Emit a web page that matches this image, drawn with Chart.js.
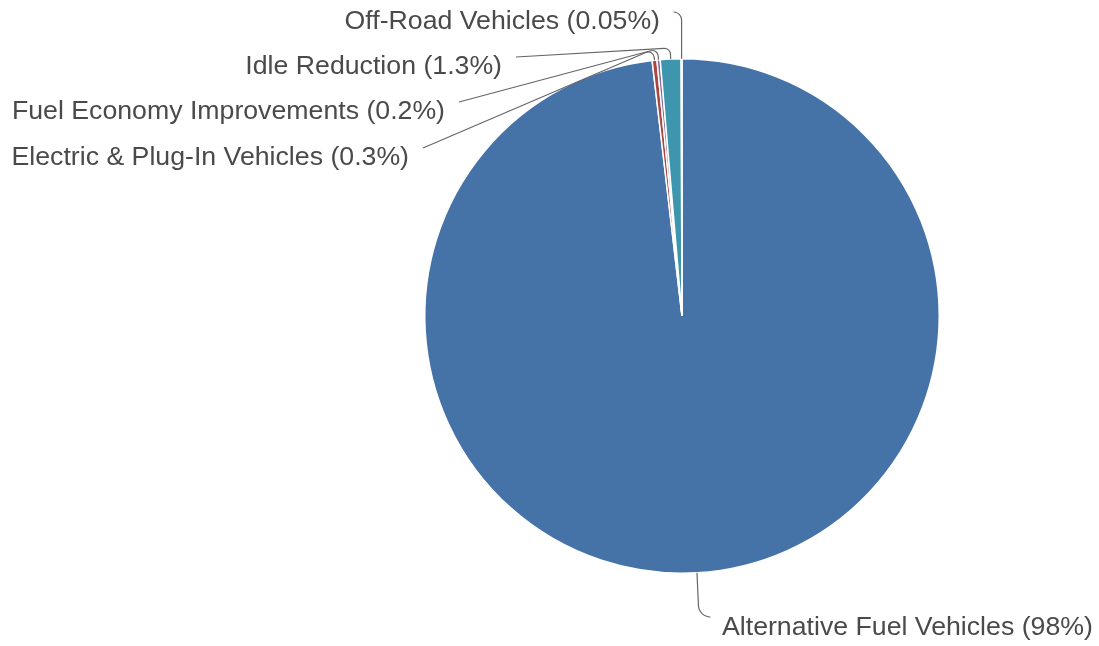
<!DOCTYPE html>
<html>
<head>
<meta charset="utf-8">
<script src="https://cdn.jsdelivr.net/npm/chart.js@4"></script>
<style>
html,body{margin:0;padding:0;background:#fff;}
#wrap{width:1099px;height:646px;position:relative;}
</style>
</head>
<body>
<div id="wrap"><canvas id="c" width="1099" height="646"></canvas></div>
<script>
const categories = ["Alternative Fuel Vehicles", "Electric & Plug-In Vehicles", "Fuel Economy Improvements", "Idle Reduction", "Off-Road Vehicles"];
const shareLabels = ["98%", "0.3%", "0.2%", "1.3%", "0.05%"];
const values = [98, 0.3, 0.2, 1.3, 0.05];
const colors = ["#4573A7", "#AA4643", "#80699B", "#3D96AE", "#DB843D"];

// label layout relative to pie centre (px)
const labelLayout = [
  {tx: 40,  ty: 311, align: "left",  kind: "down"},
  {tx: -273, ty: -159, align: "right", kind: "up"},
  {tx: -237, ty: -205, align: "right", kind: "up"},
  {tx: -180, ty: -250, align: "right", kind: "up"},
  {tx: -22, ty: -295, align: "right", kind: "top"}
];

const leaderPlugin = {
  id: "leaders",
  afterDatasetsDraw(chart) {
    const ctx = chart.ctx;
    const meta = chart.getDatasetMeta(0);
    ctx.save();
    ctx.font = "26.7px 'Liberation Sans', Arial, sans-serif";
    ctx.textBaseline = "middle";
    meta.data.forEach((arc, i) => {
      const cx = arc.x, cy = arc.y, r = arc.outerRadius;
      const mid = (arc.startAngle + arc.endAngle) / 2;
      const ax = cx + Math.cos(mid) * r, ay = cy + Math.sin(mid) * r;
      const L = labelLayout[i];
      const tx = cx + L.tx, ty = cy + L.ty;
      ctx.strokeStyle = "#666";
      ctx.lineWidth = 1.2;
      ctx.beginPath();
      ctx.moveTo(ax, ay);
      if (L.kind === "down") {
        const kx = ax + 2, ky = ty - 10;
        ctx.arcTo(kx, ky, tx - 12, ky, 12);
        ctx.lineTo(tx - 14, ky);
      } else if (L.kind === "top") {
        const kx = ax, ky = ty - 9;
        ctx.arcTo(kx, ky, kx - 8, ky, 8);
        ctx.lineTo(kx - 6, ky);
      } else {
        const kx = cx + Math.cos(mid) * (r + 11), ky = cy + Math.sin(mid) * (r + 11);
        const ex = tx + 14, ey = ty - 9;
        ctx.arcTo(kx, ky, ex, ey, 6);
        ctx.lineTo(ex, ey);
      }
      ctx.stroke();
      ctx.fillStyle = "#4a4a4a";
      ctx.textAlign = L.align;
      ctx.fillText(categories[i] + " (" + shareLabels[i] + ")", tx, ty + 1);
    });
    ctx.restore();
  }
};

new Chart(document.getElementById("c"), {
  type: "pie",
  data: {
    labels: categories,
    datasets: [{
      data: values,
      backgroundColor: colors,
      borderColor: "#ffffff",
      borderWidth: 1.5,
      hoverOffset: 0
    }]
  },
  options: {
    responsive: false,
    animation: false,
    layout: {padding: {left: 424, right: 159, top: 58, bottom: 72}},
    plugins: {legend: {display: false}, tooltip: {enabled: false}}
  },
  plugins: [leaderPlugin]
});
</script>
</body>
</html>
